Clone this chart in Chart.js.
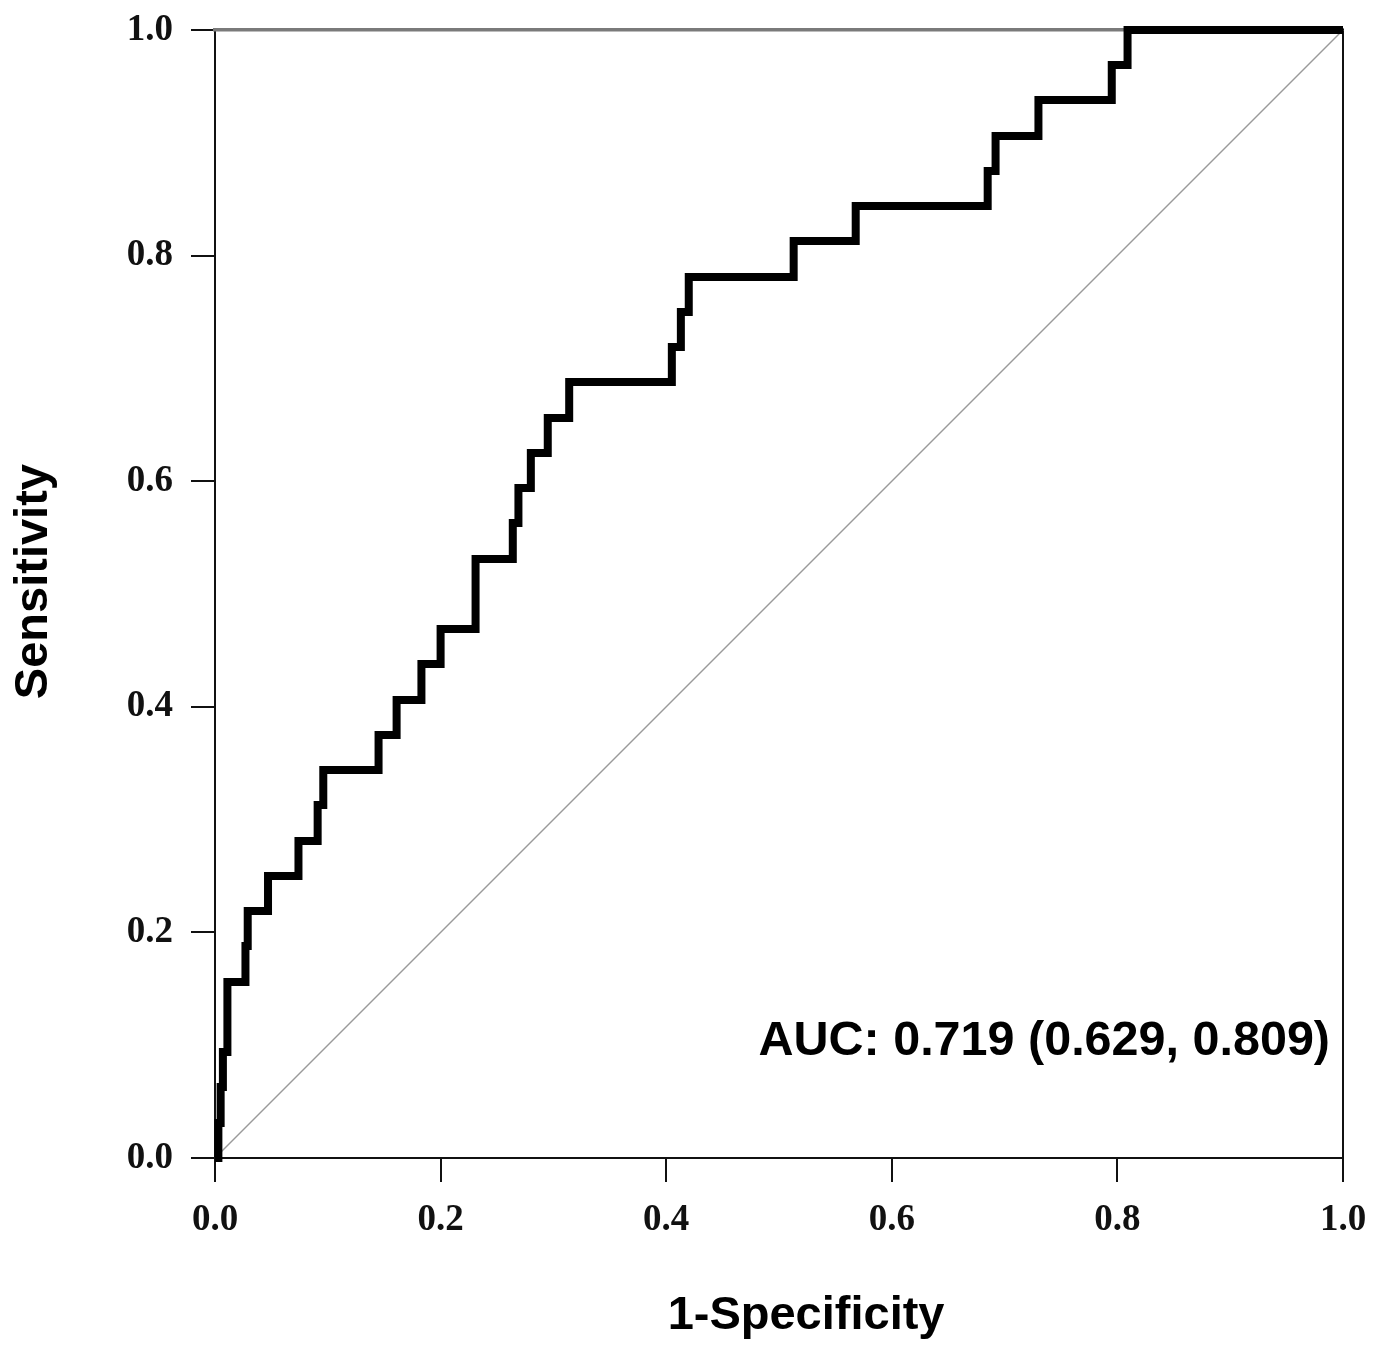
<!DOCTYPE html>
<html>
<head>
<meta charset="utf-8">
<title>ROC curve</title>
<script src="https://cdn.jsdelivr.net/npm/chart.js@4.4.1/dist/chart.umd.min.js"></script>
<style>
  html, body { margin: 0; padding: 0; background: #fff; }
  #wrap { width: 1377px; height: 1346px; position: relative; }
</style>
</head>
<body>
<div id="wrap"><canvas id="roc"></canvas></div>
<script>
// ROC steps: false positive rate where the curve rises, and the new sensitivity
const fpr = [0, 0.003, 0.005, 0.007, 0.011, 0.027, 0.029, 0.047, 0.074, 0.091, 0.096, 0.145, 0.161,
  0.183, 0.200, 0.231, 0.264, 0.269, 0.280, 0.295, 0.314, 0.405, 0.413, 0.420, 0.513, 0.568,
  0.685, 0.692, 0.730, 0.795, 0.809, 1.0];
const tpr = [0, 0.031, 0.063, 0.094, 0.156, 0.188, 0.219, 0.250, 0.281, 0.313, 0.344, 0.375, 0.406,
  0.438, 0.469, 0.531, 0.563, 0.594, 0.625, 0.656, 0.688, 0.719, 0.750, 0.781, 0.813, 0.844,
  0.875, 0.906, 0.938, 0.969, 1.0, 1.0];

// reference line
const refX = [0, 1];
const refY = [0, 1];

const tickLabels = ['0.0', '0.2', '0.4', '0.6', '0.8', '1.0'];
const aucText = 'AUC: 0.719 (0.629, 0.809)';
const xTitle = '1-Specificity';
const yTitle = 'Sensitivity';

const tickFont = { family: 'Liberation Serif', weight: 'bold', size: 37 };
const titleFont = 'bold 47px "Liberation Sans", Arial, sans-serif';

const tickLabel = v => tickLabels[Math.round(v / 0.2)] ?? '';

// keep the plot box where the figure has it, whatever the label overhang
const noOverhang = s => {
  s.paddingTop = 0;
  s.paddingBottom = 0;
  s.paddingLeft = 0;
  s.paddingRight = 0;
};

// axis titles and the AUC note
const textPlugin = {
  id: 'rocText',
  afterDraw(chart) {
    const { ctx, chartArea: a } = chart;
    ctx.save();
    ctx.fillStyle = '#000';
    ctx.font = titleFont;
    ctx.textAlign = 'center';
    ctx.textBaseline = 'middle';
    ctx.fillText(xTitle, a.left + 0.524 * (a.right - a.left), 1316);

    ctx.save();
    ctx.translate(34, a.top + 0.489 * (a.bottom - a.top));
    ctx.rotate(-Math.PI / 2);
    ctx.fillText(yTitle, 0, 0);
    ctx.restore();

    ctx.font = 'bold 48.5px "Liberation Sans", Arial, sans-serif';
    ctx.textAlign = 'right';
    ctx.fillText(aucText, a.right - 13, 1042);
    ctx.restore();
  }
};

new Chart(document.getElementById('roc'), {
  type: 'line',
  data: {
    datasets: [
      {
        label: 'Reference',
        data: refX.map((x, i) => ({ x, y: refY[i] })),
        borderColor: '#9a9a9a',
        borderWidth: 1.5,
        pointRadius: 0,
        order: 2
      },
      {
        label: 'ROC',
        data: fpr.map((x, i) => ({ x, y: tpr[i] })),
        borderColor: '#000',
        borderWidth: 8,
        borderJoinStyle: 'miter',
        borderCapStyle: 'butt',
        stepped: 'before',
        pointRadius: 0,
        order: 1
      }
    ]
  },
  options: {
    responsive: true,
    maintainAspectRatio: false,
    animation: false,
    clip: false,
    layout: { padding: { top: 30, right: 34, left: 0, bottom: 0 } },
    plugins: {
      legend: { display: false },
      tooltip: { enabled: false }
    },
    scales: {
      x: {
        type: 'linear',
        position: 'bottom',
        min: 0,
        max: 1,
        afterFit: s => { s.height = 188; noOverhang(s); },
        ticks: { stepSize: 0.2, color: '#111', font: tickFont, padding: 16, maxRotation: 0, callback: tickLabel },
        grid: { drawOnChartArea: false, drawTicks: true, tickLength: 24, color: '#111', lineWidth: 2 },
        border: { display: true, color: '#111', width: 2 }
      },
      y: {
        type: 'linear',
        position: 'left',
        min: 0,
        max: 1,
        afterFit: s => { s.width = 215; noOverhang(s); },
        ticks: { stepSize: 0.2, color: '#111', font: tickFont, padding: 18, callback: tickLabel },
        grid: { drawOnChartArea: false, drawTicks: true, tickLength: 24, color: '#111', lineWidth: 2 },
        border: { display: true, color: '#111', width: 2 }
      },
      xTop: {
        type: 'linear',
        position: 'top',
        min: 0,
        max: 1,
        afterFit: s => { s.height = 0; noOverhang(s); },
        ticks: { display: false },
        grid: { display: false },
        border: { display: true, color: '#7a7a7a', width: 3.5 }
      },
      yRight: {
        type: 'linear',
        position: 'right',
        min: 0,
        max: 1,
        afterFit: s => { s.width = 0; noOverhang(s); },
        ticks: { display: false },
        grid: { display: false },
        border: { display: true, color: '#111', width: 2 }
      }
    }
  },
  plugins: [textPlugin]
});
</script>
</body>
</html>
